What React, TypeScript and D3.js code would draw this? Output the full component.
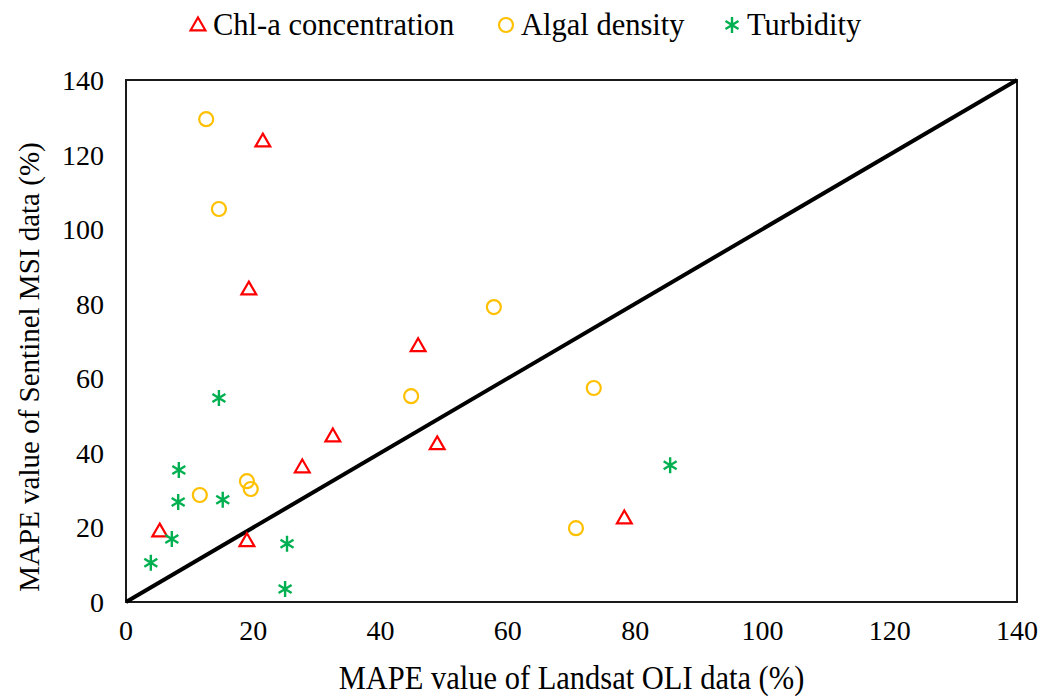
import React, { useEffect, useRef } from "react";
import * as d3 from "d3";

// values (x = Landsat OLI, y = Sentinel MSI)
const chlX = [21.5, 19.3, 45.9, 32.5, 27.7, 48.9, 5.3, 19.0, 78.3];
const chlY = [123.6, 83.9, 68.7, 44.5, 36.2, 42.4, 19.0, 16.4, 22.5];

const algalX = [12.6, 14.6, 57.8, 44.8, 73.5, 11.6, 19.0, 19.6, 70.7];
const algalY = [129.5, 105.4, 79.1, 55.2, 57.4, 28.7, 32.4, 30.3, 19.8];

const turbX = [14.6, 8.3, 8.2, 15.2, 7.2, 3.9, 25.3, 25.0, 85.5];
const turbY = [54.7, 35.4, 26.8, 27.4, 16.9, 10.5, 15.6, 3.5, 36.7];

const ticks = [0, 20, 40, 60, 80, 100, 120, 140];
const seriesNames = ["Chl-a concentration", "Algal density", "Turbidity"];

const RED = "#ff0000";
const ORANGE = "#ffc000";
const GREEN = "#00b050";
const FONT = "'Liberation Serif', 'Times New Roman', serif";

const App = () => {
  const svgRef = useRef<SVGSVGElement>(null);

  useEffect(() => {
    const width = 1057;
    const height = 700;
    const margin = { top: 80, right: 40, bottom: 98, left: 126 };

    const svg = d3.select(svgRef.current);
    svg.selectAll("*").remove();
    svg.attr("width", width).attr("height", height);

    const x = d3.scaleLinear().domain([0, 140]).range([margin.left, width - margin.right]);
    const y = d3.scaleLinear().domain([0, 140]).range([height - margin.bottom, margin.top]);

    // frame
    svg.append("rect")
      .attr("x", x(0))
      .attr("y", y(140))
      .attr("width", x(140) - x(0))
      .attr("height", y(0) - y(140))
      .attr("fill", "none")
      .attr("stroke", "#1a1a1a")
      .attr("stroke-width", 2);

    // tick labels
    svg.append("g")
      .selectAll("text")
      .data(ticks)
      .enter()
      .append("text")
      .attr("x", (d) => x(d))
      .attr("y", y(0) + 38)
      .attr("text-anchor", "middle")
      .attr("font-family", FONT)
      .attr("font-size", 28)
      .text((d) => d);

    svg.append("g")
      .selectAll("text")
      .data(ticks)
      .enter()
      .append("text")
      .attr("x", x(0) - 22)
      .attr("y", (d) => y(d) + 10)
      .attr("text-anchor", "end")
      .attr("font-family", FONT)
      .attr("font-size", 28)
      .text((d) => d);

    // axis titles
    svg.append("text")
      .attr("transform", `translate(${(x(0) + x(140)) / 2},689) scale(1,1.1)`)
      .attr("text-anchor", "middle")
      .attr("font-family", FONT)
      .attr("font-size", 30.5)
      .text("MAPE value of Landsat OLI data (%)");

    svg.append("text")
      .attr("transform", `translate(39,${(y(0) + y(140)) / 2 + 26}) rotate(-90)`)
      .attr("text-anchor", "middle")
      .attr("font-family", FONT)
      .attr("font-size", 29)
      .text("MAPE value of Sentinel MSI data (%)");

    // 1:1 line
    const line = d3.line<number>().x((d) => x(d)).y((d) => y(d));
    svg.append("path")
      .datum([0, 140])
      .attr("d", line)
      .attr("stroke", "#000")
      .attr("stroke-width", 4)
      .attr("fill", "none");

    const tri = d3.symbol().type(d3.symbolTriangle).size(95);
    const ast = "M0,-8V8M-6.5,-4L6.5,4M-6.5,4L6.5,-4";

    const drawTri = (g: any, cx: number, cy: number) =>
      g.append("path")
        .attr("d", tri())
        .attr("transform", `translate(${cx},${cy + 1})`)
        .attr("fill", "none")
        .attr("stroke", RED)
        .attr("stroke-width", 2.2);
    const drawCircle = (g: any, cx: number, cy: number) =>
      g.append("circle")
        .attr("cx", cx)
        .attr("cy", cy)
        .attr("r", 7)
        .attr("fill", "none")
        .attr("stroke", ORANGE)
        .attr("stroke-width", 2.2);
    const drawAst = (g: any, cx: number, cy: number) =>
      g.append("path")
        .attr("d", ast)
        .attr("transform", `translate(${cx},${cy})`)
        .attr("fill", "none")
        .attr("stroke", GREEN)
        .attr("stroke-width", 2.4);

    const pts = svg.append("g");
    chlX.forEach((v, i) => drawTri(pts, x(v), y(chlY[i])));
    algalX.forEach((v, i) => drawCircle(pts, x(v), y(algalY[i])));
    turbX.forEach((v, i) => drawAst(pts, x(v), y(turbY[i])));

    // legend
    const legend = svg.append("g");
    const legendX = [198, 506, 732];
    const drawers = [drawTri, drawCircle, drawAst];
    seriesNames.forEach((name, i) => {
      drawers[i](legend, legendX[i], 25);
      legend.append("text")
        .attr("x", legendX[i] + 15)
        .attr("y", 35)
        .attr("font-family", FONT)
        .attr("font-size", 30.5)
        .text(name);
    });
  }, []);

  return <svg ref={svgRef} style={{ display: "block", position: "absolute", left: 0, top: 0 }}></svg>;
};

export default App;
